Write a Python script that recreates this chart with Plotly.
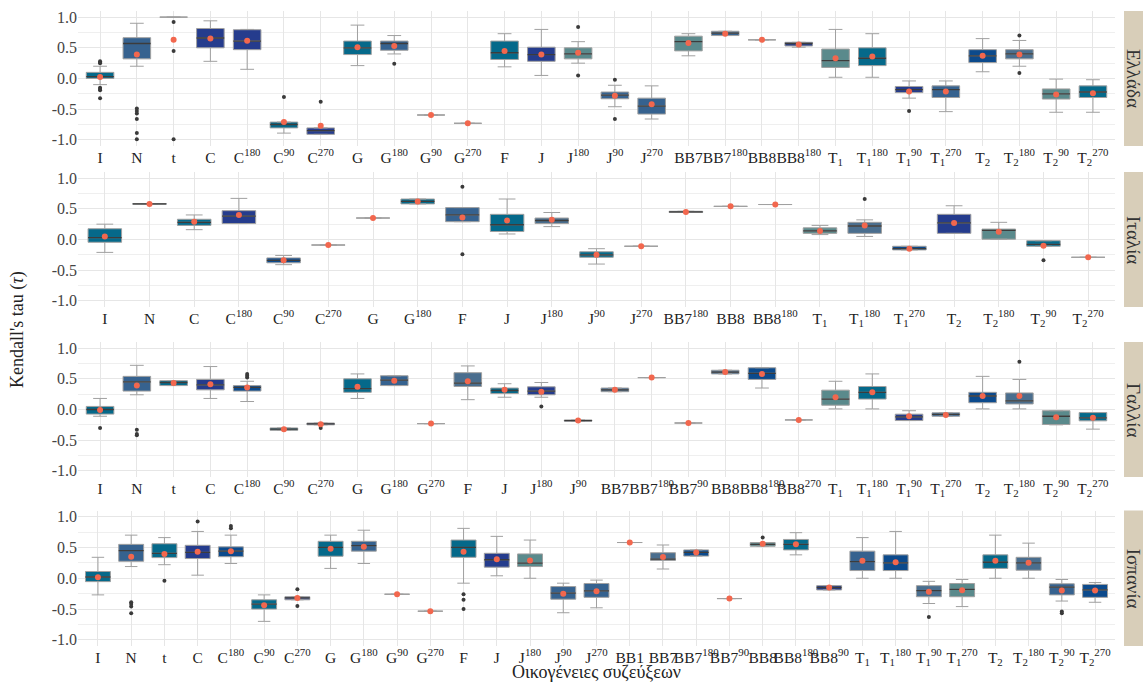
import plotly.graph_objects as go

# ---------------- data ----------------
GR_CATS = ["I","N","t","C","C^180","C^90","C^270","G","G^180","G^90","G^270","F","J","J^180","J^90","J^270",
           "BB7","BB7^180","BB8","BB8^180","T_1","T_1^180","T_1^90","T_1^270","T_2","T_2^180","T_2^90","T_2^270"]
GR_Q1 = [0.00,0.32,1.00,0.50,0.47,-0.805,-0.91,0.39,0.46,-0.595,-0.73,0.31,0.28,0.32,-0.33,-0.58,0.45,0.70,0.63,0.53,0.18,0.21,-0.23,-0.31,0.26,0.32,-0.335,-0.31]
GR_MED = [0.03,0.57,1.00,0.66,0.61,-0.75,-0.85,0.50,0.57,-0.595,-0.73,0.42,0.39,0.40,-0.27,-0.45,0.60,0.74,0.63,0.57,0.29,0.33,-0.18,-0.18,0.37,0.40,-0.25,-0.22]
GR_Q3 = [0.10,0.665,1.00,0.815,0.795,-0.71,-0.805,0.61,0.61,-0.595,-0.73,0.61,0.51,0.50,-0.22,-0.32,0.69,0.77,0.63,0.59,0.48,0.50,-0.13,-0.12,0.47,0.47,-0.17,-0.12]
GR_LO = [-0.10,0.20,1.00,0.28,0.15,-0.89,-0.91,0.21,0.40,-0.595,-0.73,0.19,0.05,0.25,-0.46,-0.66,0.37,0.70,0.63,0.51,0.02,0.02,-0.32,-0.54,0.11,0.20,-0.55,-0.55]
GR_HI = [0.20,0.90,1.00,0.94,0.80,-0.71,-0.805,0.87,0.70,-0.595,-0.73,0.73,0.80,0.60,-0.11,-0.12,0.73,0.77,0.63,0.59,0.80,0.73,-0.04,-0.04,0.65,0.62,-0.01,-0.02]
GR_MEAN = [0.025,0.39,0.63,0.65,0.615,-0.71,-0.77,0.51,0.53,-0.595,-0.73,0.45,0.39,0.42,-0.28,-0.42,0.58,0.73,0.63,0.556,0.33,0.36,-0.21,-0.21,0.37,0.39,-0.26,-0.24]
GR_OUT = [[0.28,0.26,0.25,-0.15,-0.17,-0.19,-0.32],[-0.49,-0.53,-0.57,-0.66,-0.89,-0.99],[0.92,0.45,-0.99],[],[],[-0.30],[-0.38],
          [],[0.24],[],[],[],[],[0.84,0.05],[-0.02,-0.66],[],[],[],[],[],[],[],[-0.53],[],[],[0.70,0.09],[],[]]

IT_CATS = ["I","N","C","C^180","C^90","C^270","G","G^180","F","J","J^180","J^90","J^270","BB7^180","BB8","BB8^180",
           "T_1","T_1^180","T_1^270","T_2","T_2^180","T_2^90","T_2^270"]
IT_Q1 = [-0.045,0.575,0.23,0.26,-0.38,-0.09,0.35,0.58,0.29,0.13,0.26,-0.29,-0.11,0.44,0.54,0.57,0.10,0.10,-0.17,0.10,0.005,-0.11,-0.29]
IT_MED = [0.03,0.58,0.28,0.38,-0.34,-0.09,0.35,0.62,0.40,0.24,0.31,-0.25,-0.11,0.45,0.54,0.57,0.14,0.22,-0.15,0.27,0.15,-0.08,-0.29]
IT_Q3 = [0.175,0.585,0.33,0.47,-0.30,-0.09,0.35,0.66,0.52,0.41,0.35,-0.20,-0.11,0.46,0.54,0.57,0.19,0.28,-0.11,0.41,0.17,-0.02,-0.29]
IT_LO = [-0.21,0.575,0.16,0.26,-0.41,-0.09,0.35,0.58,0.29,0.09,0.21,-0.40,-0.11,0.44,0.54,0.57,0.08,0.05,-0.17,0.10,0.005,-0.11,-0.29]
IT_HI = [0.25,0.585,0.40,0.67,-0.26,-0.09,0.35,0.66,0.52,0.66,0.44,-0.15,-0.11,0.46,0.54,0.57,0.23,0.32,-0.11,0.55,0.28,-0.02,-0.29]
IT_MEAN = [0.05,0.58,0.29,0.40,-0.34,-0.09,0.35,0.62,0.36,0.31,0.32,-0.25,-0.11,0.45,0.54,0.57,0.14,0.23,-0.15,0.27,0.125,-0.10,-0.29]
IT_OUT = [[],[],[],[],[],[],[],[],[0.86,-0.24],[],[],[],[],[],[],[],[],[0.66],[],[],[],[-0.34],[]]

FR_CATS = ["I","N","t","C","C^180","C^90","C^270","G","G^180","G^270","F","J","J^180","J^90","BB7","BB7^180","BB7^90",
           "BB8","BB8^180","BB8^270","T_1","T_1^180","T_1^90","T_1^270","T_2","T_2^180","T_2^90","T_2^270"]
FR_Q1 = [-0.075,0.30,0.39,0.32,0.30,-0.34,-0.25,0.28,0.39,-0.23,0.375,0.26,0.24,-0.19,0.29,0.52,-0.22,0.58,0.49,-0.17,0.07,0.17,-0.18,-0.11,0.11,0.09,-0.245,-0.185]
FR_MED = [0.00,0.45,0.44,0.40,0.36,-0.32,-0.235,0.34,0.48,-0.23,0.43,0.31,0.30,-0.18,0.32,0.52,-0.22,0.61,0.59,-0.17,0.17,0.28,-0.12,-0.08,0.22,0.14,-0.11,-0.135]
FR_Q3 = [0.05,0.54,0.47,0.49,0.39,-0.30,-0.22,0.50,0.55,-0.23,0.60,0.35,0.37,-0.17,0.35,0.52,-0.22,0.64,0.68,-0.17,0.315,0.375,-0.076,-0.054,0.28,0.27,-0.02,-0.05]
FR_LO = [-0.11,0.24,0.39,0.18,0.13,-0.34,-0.25,0.18,0.39,-0.23,0.16,0.20,0.20,-0.19,0.29,0.52,-0.22,0.58,0.35,-0.17,0.01,0.01,-0.18,-0.11,0.01,0.01,-0.25,-0.32]
FR_HI = [0.18,0.72,0.47,0.70,0.46,-0.30,-0.22,0.58,0.55,-0.23,0.71,0.42,0.44,-0.17,0.35,0.52,-0.22,0.64,0.68,-0.17,0.46,0.58,-0.02,-0.054,0.54,0.49,-0.02,-0.05]
FR_MEAN = [-0.01,0.39,0.43,0.41,0.36,-0.32,-0.24,0.37,0.47,-0.23,0.46,0.32,0.29,-0.18,0.32,0.52,-0.22,0.61,0.58,-0.17,0.20,0.28,-0.11,-0.09,0.22,0.22,-0.125,-0.135]
FR_OUT = [[-0.30],[-0.33,-0.40,-0.42],[],[],[0.58,0.55,0.52],[],[-0.30],[],[],[],[],[],[0.05],[],[],[],[],[],[],[],
          [],[],[],[],[],[0.78],[],[]]

ES_CATS = ["I","N","t","C","C^180","C^90","C^270","G","G^180","G^90","G^270","F","J","J^180","J^90","J^270",
           "BB1","BB7","BB7^180","BB7^90","BB8","BB8^180","BB8^90","T_1","T_1^180","T_1^90","T_1^270",
           "T_2","T_2^180","T_2^90","T_2^270"]
ES_Q1 = [-0.055,0.275,0.335,0.32,0.35,-0.50,-0.35,0.357,0.44,-0.26,-0.535,0.34,0.18,0.19,-0.34,-0.31,0.58,0.29,0.36,-0.33,0.52,0.46,-0.19,0.125,0.125,-0.30,-0.30,0.16,0.13,-0.27,-0.31]
ES_MED = [0.02,0.45,0.405,0.42,0.44,-0.42,-0.32,0.50,0.53,-0.26,-0.535,0.50,0.30,0.245,-0.24,-0.205,0.58,0.31,0.42,-0.33,0.55,0.55,-0.15,0.27,0.25,-0.20,-0.18,0.26,0.25,-0.145,-0.19]
ES_Q3 = [0.11,0.55,0.56,0.535,0.51,-0.35,-0.30,0.60,0.60,-0.26,-0.535,0.62,0.405,0.395,-0.135,-0.085,0.58,0.415,0.46,-0.33,0.58,0.63,-0.12,0.44,0.38,-0.12,-0.085,0.38,0.34,-0.09,-0.10]
ES_LO = [-0.27,0.19,0.22,0.05,0.24,-0.70,-0.35,0.16,0.24,-0.26,-0.535,-0.08,0.04,0.00,-0.56,-0.48,0.58,0.15,0.36,-0.33,0.52,0.38,-0.19,0.00,0.00,-0.41,-0.46,0.00,0.00,-0.37,-0.39]
ES_HI = [0.34,0.70,0.66,0.76,0.70,-0.27,-0.30,0.70,0.78,-0.26,-0.535,0.81,0.68,0.62,-0.08,-0.03,0.58,0.54,0.46,-0.33,0.58,0.74,-0.12,0.66,0.76,-0.05,-0.02,0.70,0.57,-0.02,-0.07]
ES_MEAN = [0.015,0.35,0.395,0.43,0.44,-0.44,-0.32,0.48,0.51,-0.26,-0.535,0.43,0.31,0.29,-0.25,-0.21,0.58,0.345,0.42,-0.33,0.56,0.55,-0.15,0.285,0.26,-0.22,-0.195,0.285,0.25,-0.20,-0.20]
ES_OUT = [[],[-0.39,-0.42,-0.46,-0.57],[-0.04],[0.92],[0.85,0.81],[],[-0.18,-0.45],[],[],[],[],[-0.26,-0.35,-0.50],
          [],[],[],[],[],[],[],[],[0.66],[],[],[],[],[-0.63],[],[],[],[-0.54,-0.57],[]]

COUNTRIES = ["Ελλάδα", "Ιταλία", "Γαλλία", "Ισπανία"]
Y_TICKS = [-1.0, -0.5, 0.0, 0.5, 1.0]
Y_TICK_TEXT = ["-1.0", "-0.5", "0.0", "0.5", "1.0"]

# ---------------- styles ----------------
PALETTE = {"T": "#05698A", "S": "#36628F", "N": "#253C8D", "B": "#0C4A8C",
           "G": "#5A8A8C", "L": "#4A6E8E", "-": "#808080"}
GR_FILL = ["T","S","-","N","N","T","N","T","S","-","-","T","N","G","S","S","G","S","-","N","G","T","N","S","B","L","G","T"]
IT_FILL = ["T","S","T","N","B","-","-","T","S","T","L","T","-","S","-","-","G","L","B","N","G","T","-"]
FR_FILL = ["T","S","T","N","B","T","N","T","S","-","L","T","N","L","S","-","-","S","B","-","G","T","N","S","B","L","G","T"]
ES_FILL = ["T","S","T","N","B","T","N","T","S","-","-","T","N","G","S","S","-","L","B","-","G","T","N","S","B","L","G","T","L","S","B"]

W, H = 1145, 684
FONT = "Liberation Serif"
X_LEFT, X_RIGHT = 78, 1115
PANELS_PX = [(11, 146), (172, 307), (342, 477), (510.5, 646)]
STRIP_X = (1124, 1143)


def label(c):
    base, sub, sup = c, "", ""
    if "_" in c:
        base, rest = c.split("_")
        if "^" in rest:
            sub, sup = rest.split("^")
        else:
            sub = rest
    elif "^" in c:
        base, sup = c.split("^")
    s = base
    if sub:
        s += "<sub>" + sub + "</sub>"
    if sup:
        s += "<sup>" + sup + "</sup>"
    return s


panels = [
    (GR_CATS, GR_Q1, GR_MED, GR_Q3, GR_LO, GR_HI, GR_MEAN, GR_OUT, GR_FILL),
    (IT_CATS, IT_Q1, IT_MED, IT_Q3, IT_LO, IT_HI, IT_MEAN, IT_OUT, IT_FILL),
    (FR_CATS, FR_Q1, FR_MED, FR_Q3, FR_LO, FR_HI, FR_MEAN, FR_OUT, FR_FILL),
    (ES_CATS, ES_Q1, ES_MED, ES_Q3, ES_LO, ES_HI, ES_MEAN, ES_OUT, ES_FILL),
]

fig = go.Figure()
layout = dict(
    width=W, height=H, margin=dict(l=0, r=0, t=0, b=0),
    paper_bgcolor="white", plot_bgcolor="white",
    boxmode="overlay", showlegend=False,
    font=dict(family=FONT, size=16, color="#333333"),
)
shapes, annotations = [], []

for i, (cats, q1, med, q3, lo, hi, mean, out, fill) in enumerate(panels):
    k = "" if i == 0 else str(i + 1)
    xa, ya = "x" + k, "y" + k
    top, bot = PANELS_PX[i]
    for key in dict.fromkeys(fill):
        idx = [j for j, f in enumerate(fill) if f == key]
        fig.add_trace(go.Box(
            x=[cats[j] for j in idx],
            q1=[q1[j] for j in idx], median=[med[j] for j in idx], q3=[q3[j] for j in idx],
            lowerfence=[lo[j] for j in idx], upperfence=[hi[j] for j in idx],
            fillcolor=PALETTE[key], line=dict(color="#a0a0a0", width=1),
            width=0.75, boxpoints=False, xaxis=xa, yaxis=ya, hoverinfo="skip"))
    idx = [j for j in range(len(cats)) if q3[j] > q1[j]]
    mv = [med[j] for j in idx]
    fig.add_trace(go.Box(
        x=[cats[j] for j in idx], q1=mv, median=mv, q3=mv, lowerfence=mv, upperfence=mv,
        fillcolor="rgba(0,0,0,0)", line=dict(color="#3c3c3c", width=1.3),
        width=0.75, boxpoints=False, xaxis=xa, yaxis=ya, hoverinfo="skip"))
    ox, oy = [], []
    for j, vals in enumerate(out):
        for v in vals:
            ox.append(cats[j]); oy.append(v)
    fig.add_trace(go.Scatter(x=ox, y=oy, mode="markers", xaxis=xa, yaxis=ya,
                             marker=dict(color="#3a3a3a", size=4), hoverinfo="skip"))
    fig.add_trace(go.Scatter(x=cats, y=mean, mode="markers", xaxis=xa, yaxis=ya,
                             marker=dict(color="#F2674E", size=6), hoverinfo="skip"))

    n = len(cats)
    layout["xaxis" + k] = dict(
        domain=[X_LEFT / W, X_RIGHT / W], anchor=ya, type="category",
        categoryorder="array", categoryarray=cats, range=[-0.6, n - 0.4],
        tickmode="array", tickvals=cats, ticktext=[label(c) for c in cats], tickangle=0,
        showgrid=True, gridcolor="#e6e6e6", gridwidth=1.1, zeroline=False,
        showline=False, ticks="", tickfont=dict(family=FONT, size=15.5, color="#222222"),
        automargin=False, fixedrange=True)
    layout["yaxis" + k] = dict(
        domain=[1 - bot / H, 1 - top / H], anchor=xa, range=[-1.1, 1.1],
        tickmode="array", tickvals=Y_TICKS, ticktext=Y_TICK_TEXT,
        showgrid=True, gridcolor="#e6e6e6", gridwidth=1.1, zeroline=False,
        minor=dict(tickvals=[-0.75, -0.25, 0.25, 0.75], showgrid=True, gridcolor="#efefef", gridwidth=0.6),
        showline=False, ticks="", tickfont=dict(family=FONT, size=16, color="#444444"),
        automargin=False, fixedrange=True)
    shapes.append(dict(type="rect", xref="paper", yref="paper",
                       x0=STRIP_X[0] / W, x1=STRIP_X[1] / W, y0=1 - bot / H, y1=1 - top / H,
                       fillcolor="#D8CEB9", line=dict(width=0), layer="below"))
    annotations.append(dict(text=COUNTRIES[i], xref="paper", yref="paper",
                            x=(STRIP_X[0] + STRIP_X[1]) / 2 / W, y=1 - (top + bot) / 2 / H,
                            textangle=90, showarrow=False, xanchor="center", yanchor="middle",
                            font=dict(family=FONT, size=19, color="#333333")))

annotations.append(dict(text="Kendall's tau (<i>τ</i>)", xref="paper", yref="paper",
                        x=18 / W, y=1 - 330 / H, textangle=-90, showarrow=False,
                        xanchor="center", yanchor="middle",
                        font=dict(family=FONT, size=18, color="#222222")))
annotations.append(dict(text="Οικογένειες συζεύξεων", xref="paper", yref="paper",
                        x=(X_LEFT + X_RIGHT) / 2 / W, y=1 - 672 / H, showarrow=False,
                        xanchor="center", yanchor="middle",
                        font=dict(family=FONT, size=18, color="#222222")))
layout["shapes"] = shapes
layout["annotations"] = annotations
fig.update_layout(**layout)
fig.write_html("out.html", config={"displayModeBar": False},
               post_script="document.body.style.margin='0';document.body.style.overflow='hidden';")
